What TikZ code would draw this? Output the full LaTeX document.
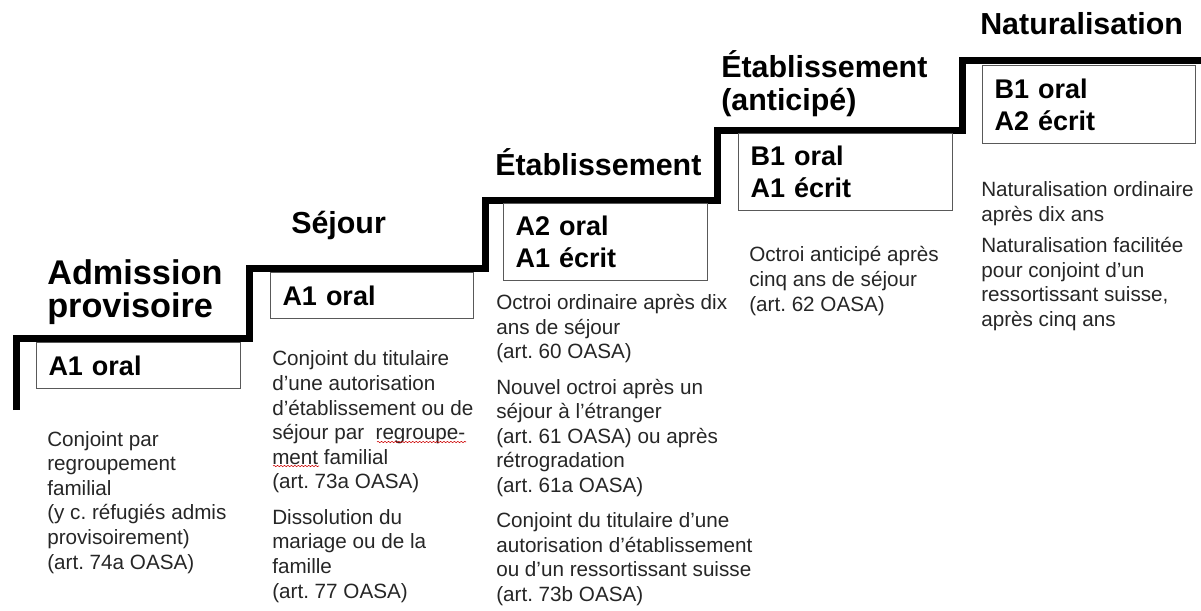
\documentclass[tikz,border=0pt]{standalone}
\usepackage{fontspec}
\setmainfont{Liberation Sans}
\usetikzlibrary{decorations.pathmorphing}
\frenchspacing

\begin{document}
\begin{tikzpicture}[x=0.75pt, y=-0.75pt,
    stair/.style={line width=5.25pt},
    levelbox/.style={draw=black!65, line width=0.75pt, anchor=north west,
      inner xsep=9pt, inner ysep=0pt, align=left,
      font=\bfseries\fontsize{20.25}{24}\selectfont},
    stage/.style={anchor=base west, inner sep=0pt, align=left,
      font=\bfseries\fontsize{22.8}{24.75}\selectfont},
    note/.style={anchor=base west, inner sep=0pt, align=left, text=black!85,
      font=\fontsize{15.5}{18.45}\selectfont},
    typo/.style={red!80!black, line width=0.4pt, decorate,
      decoration={snake, amplitude=0.5pt, segment length=2.6pt}}]
    \useasboundingbox (0,0) rectangle (1201,610);

    % Staircase
    \draw[stair] (16,410) -- (16,338.5) -- (249,338.5) -- (249,268)
      -- (485,268) -- (485,200) -- (717,200) -- (717,130)
      -- (962,130) -- (962,61) -- (1210,61);

    % Stages (placed at the baseline of their last line)
    \node[stage, font=\bfseries\fontsize{25.7}{24.4}\selectfont] (stageA) at (47,317) {Admission\\provisoire};
    \node[stage] (stageB) at (291,233) {Séjour};
    \node[stage] (stageC) at (495,175) {Établissement};
    \node[stage] (stageD) at (721,110) {Établissement\\(anticipé)};
    \node[stage] (stageE) at (980,35) {Naturalisation};

    % Language levels
    \node[levelbox, text width=135pt, minimum height=34.5pt] (boxA) at (36,342) {A1 oral};
    \node[levelbox, text width=134.25pt, minimum height=34.5pt] (boxB) at (270,272) {A1 oral};
    \node[levelbox, text width=135pt, minimum height=57.75pt] (boxC) at (503,203) {A2 oral\\A1 écrit};
    \node[levelbox, text width=142.5pt, minimum height=57.75pt] (boxD) at (738,133) {B1 oral\\A1 écrit};
    \node[levelbox, text width=141.75pt, minimum height=58.5pt] (boxE) at (982,65) {B1 oral\\A2 écrit};

    % Conditions (placed at the baseline of their last line)
    \node[note] (noteA) at (47,569) {Conjoint par\\regroupement\\familial\\(y c. réfugiés admis\\provisoirement)\\(art. 74a OASA)};
    \node[note] (noteB) at (272,598) {Conjoint du titulaire\\d’une autorisation\\d’établissement ou de\\séjour par~ regroupe-\\ment familial\\(art. 73a OASA)\\[8pt]Dissolution du\\mariage ou de la\\famille\\(art. 77 OASA)};
    \node[note] (noteC) at (496,601.5) {Octroi ordinaire après dix\\ans de séjour\\(art. 60 OASA)\\[8pt]Nouvel octroi après un\\séjour à l’étranger\\(art. 61 OASA) ou après\\rétrogradation\\(art. 61a OASA)\\[8pt]Conjoint du titulaire d’une\\autorisation d’établissement\\ou d’un ressortissant suisse\\(art. 73b OASA)};
    \node[note] (noteD) at (749,311) {Octroi anticipé après\\cinq ans de séjour\\(art. 62 OASA)};
    \node[note] (noteE) at (981,326.5) {Naturalisation ordinaire\\après dix ans\\[5pt]Naturalisation facilitée\\pour conjoint d’un\\ressortissant suisse,\\après cinq ans};

    % Spelling marks
    \draw[typo] (377,442) -- (466,442);
    \draw[typo] (273,466) -- (319,466);
\end{tikzpicture}
\end{document}
